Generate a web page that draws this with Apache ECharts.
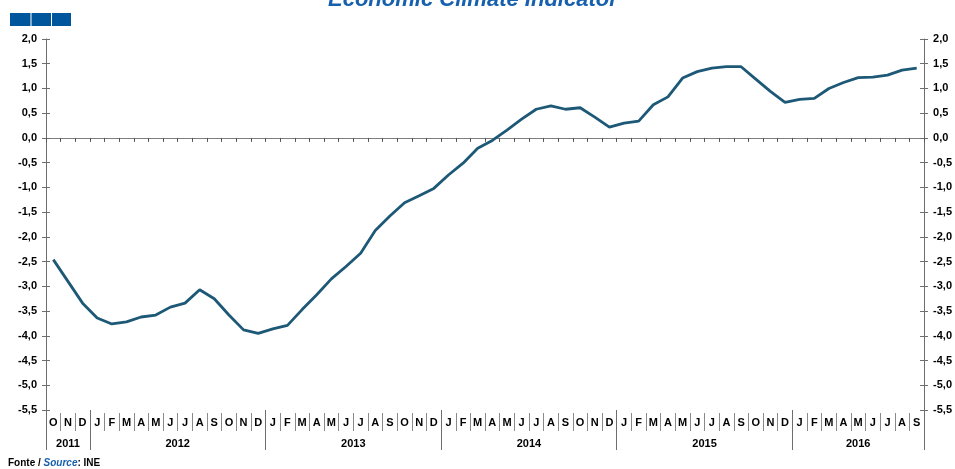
<!DOCTYPE html>
<html>
<head>
<meta charset="utf-8">
<script src="https://cdn.jsdelivr.net/npm/echarts@6/dist/echarts.min.js"></script>
<style>
  html, body { margin: 0; padding: 0; background: #fff; }
  #chart { width: 955px; height: 469px; }
</style>
</head>
<body>
<div id="chart"></div>
<script>
  // Economic climate indicator, Oct 2011 - Sep 2016 (monthly)
  var years = ['2011', '2012', '2013', '2014', '2015', '2016'];
  var yearMonths = [
    ['O', 'N', 'D'],
    ['J', 'F', 'M', 'A', 'M', 'J', 'J', 'A', 'S', 'O', 'N', 'D'],
    ['J', 'F', 'M', 'A', 'M', 'J', 'J', 'A', 'S', 'O', 'N', 'D'],
    ['J', 'F', 'M', 'A', 'M', 'J', 'J', 'A', 'S', 'O', 'N', 'D'],
    ['J', 'F', 'M', 'A', 'M', 'J', 'J', 'A', 'S', 'O', 'N', 'D'],
    ['J', 'F', 'M', 'A', 'M', 'J', 'J', 'A', 'S']
  ];
  var values2011 = [-2.46, -2.90, -3.34];
  var values2012 = [-3.64, -3.76, -3.72, -3.62, -3.58, -3.42, -3.34, -3.07, -3.25, -3.58, -3.88, -3.95];
  var values2013 = [-3.86, -3.79, -3.47, -3.17, -2.85, -2.60, -2.33, -1.87, -1.58, -1.31, -1.17, -1.02];
  var values2014 = [-0.75, -0.51, -0.21, -0.05, 0.16, 0.38, 0.58, 0.65, 0.58, 0.61, 0.42, 0.22];
  var values2015 = [0.30, 0.34, 0.67, 0.83, 1.21, 1.34, 1.41, 1.44, 1.44, 1.19, 0.94, 0.72];
  var values2016 = [0.78, 0.80, 1.00, 1.12, 1.22, 1.23, 1.27, 1.37, 1.41];
  var yTicks = { min: -5.5, max: 2.0, step: 0.5 };

  var values = [].concat(values2011, values2012, values2013, values2014, values2015, values2016);

  // category per month, plus year boundaries / centres for the year row
  var categories = [], monthLabels = [], yearBounds = [0], yearCenters = [], yearByCenter = {};
  var pos = 0;
  years.forEach(function (y, k) {
    yearMonths[k].forEach(function (m, j) {
      categories.push(y + '-' + j);
      monthLabels.push(m);
    });
    var c = pos + yearMonths[k].length / 2;
    yearCenters.push(c);
    yearByCenter[c] = y;
    pos += yearMonths[k].length;
    yearBounds.push(pos);
  });

  var font = 'Liberation Sans, Arial, sans-serif';
  var labelStyle = { color: '#000', fontFamily: font, fontWeight: 'bold', fontSize: 11 };

  function yAxisOf(side, inside) {
    return {
      type: 'value',
      position: side,
      min: yTicks.min,
      max: yTicks.max,
      interval: yTicks.step,
      splitLine: { show: false },
      axisLine: { show: !inside, onZero: false, lineStyle: { color: '#6e6e6e', width: 1 } },
      axisTick: { show: true, inside: inside, length: 4, lineStyle: { color: '#6e6e6e' } },
      axisLabel: Object.assign({
        show: !inside,
        margin: 9,
        formatter: function (v) { return v.toFixed(1).replace('.', ','); }
      }, labelStyle)
    };
  }

  var chart = echarts.init(document.getElementById('chart'));

  var option = {
    animation: false,
    title: [
      {
        text: 'Economic Climate Indicator',
        left: 323,
        top: -16,
        textStyle: { color: '#1660ad', fontFamily: font, fontStyle: 'italic', fontWeight: 'bold', fontSize: 22 }
      },
      {
        text: '{a|Fonte / }{b|Source}{a|: INE}',
        left: 3,
        top: 453,
        textStyle: {
          rich: {
            a: { color: '#000', fontFamily: font, fontWeight: 'bold', fontSize: 10 },
            b: { color: '#1660ad', fontFamily: font, fontWeight: 'bold', fontStyle: 'italic', fontSize: 10 }
          }
        }
      }
    ],
    graphic: [
      { type: 'rect', shape: { x: 10, y: 13, width: 20.5, height: 13 }, style: { fill: '#00569c' } },
      { type: 'rect', shape: { x: 31.5, y: 13, width: 19.5, height: 13 }, style: { fill: '#00569c' } },
      { type: 'rect', shape: { x: 52, y: 13, width: 19, height: 13 }, style: { fill: '#00569c' } }
    ],
    grid: { left: 46, right: 30, top: 39, bottom: 59 },
    xAxis: [
      {
        // zero line with month ticks
        type: 'category',
        data: categories,
        boundaryGap: true,
        axisLine: { show: true, onZero: true, lineStyle: { color: '#7f7f7f', width: 1 } },
        axisTick: { show: true, interval: 0, length: 4, lineStyle: { color: '#555' } },
        axisLabel: { show: false },
        splitLine: { show: false }
      },
      {
        // month letters with separators
        type: 'category',
        data: categories,
        position: 'bottom',
        offset: 3,
        axisLine: { show: false, onZero: false },
        axisTick: { show: true, interval: 0, length: 18, lineStyle: { color: '#8a8a8a' } },
        axisLabel: Object.assign({
          interval: 0,
          margin: 4,
          formatter: function (v, i) { return monthLabels[i]; }
        }, labelStyle),
        splitLine: { show: false }
      },
      {
        // year row
        type: 'value',
        min: 0,
        max: categories.length,
        position: 'bottom',
        axisLine: { show: false, onZero: false },
        splitLine: { show: false },
        axisTick: { show: true, customValues: yearBounds, length: 40, lineStyle: { color: '#6e6e6e' } },
        axisLabel: Object.assign({
          customValues: yearCenters,
          margin: 28,
          formatter: function (v) { return yearByCenter[v]; }
        }, labelStyle)
      }
    ],
    yAxis: [yAxisOf('left', false), yAxisOf('left', true), yAxisOf('right', false), yAxisOf('right', true)],
    series: [
      {
        type: 'line',
        xAxisIndex: 0,
        yAxisIndex: 0,
        data: values,
        symbol: 'none',
        lineStyle: { color: '#1d5977', width: 2.8 }
      }
    ]
  };

  chart.setOption(option);
</script>
</body>
</html>
